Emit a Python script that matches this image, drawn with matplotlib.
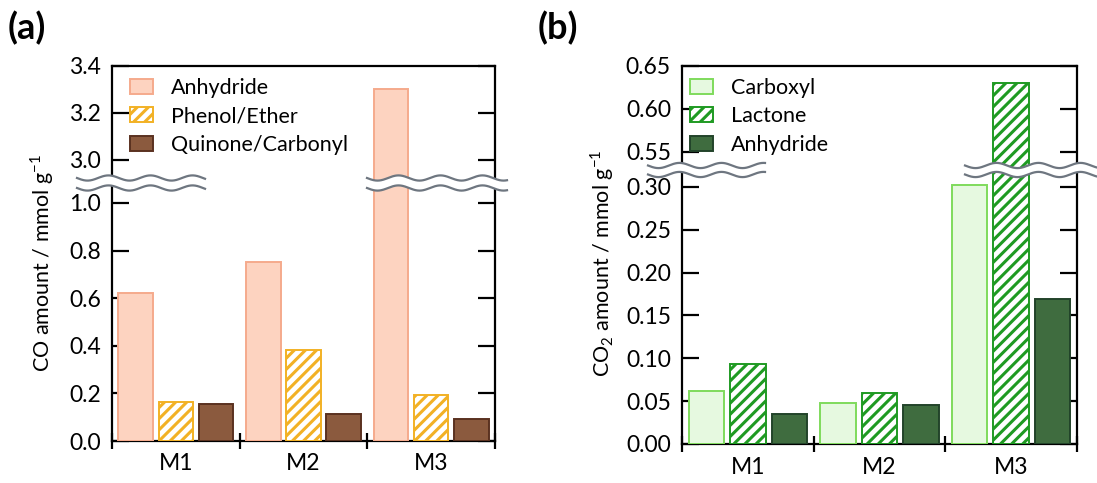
import numpy as np
import matplotlib
matplotlib.use("Agg")
import matplotlib.pyplot as plt
from matplotlib.lines import Line2D
from matplotlib.patches import Polygon, Patch

plt.rcParams['font.family'] = ['Lato', 'DejaVu Sans']
plt.rcParams['hatch.linewidth'] = 2.2
plt.rcParams['mathtext.fontset'] = 'custom'
plt.rcParams['mathtext.rm'] = 'Lato'

samples = ['M1', 'M2', 'M3']

# CO desorption (a)
co_labels = ['Anhydride', 'Phenol/Ether', 'Quinone/Carbonyl']
co_anhydride = [0.62, 0.753, 3.30]
co_phenol = [0.165, 0.382, 0.193]
co_quinone = [0.154, 0.112, 0.091]

# CO2 desorption (b)
co2_labels = ['Carboxyl', 'Lactone', 'Anhydride']
co2_carboxyl = [0.062, 0.048, 0.302]
co2_lactone = [0.093, 0.060, 0.630]
co2_anhydride = [0.035, 0.045, 0.169]

co_styles = [dict(facecolor='#fdd3c0', edgecolor='#f5aa8c', hatch=None),
             dict(facecolor='white', edgecolor='#f2b125', hatch='///'),
             dict(facecolor='#8b5a3e', edgecolor='#5a3120', hatch=None)]
co2_styles = [dict(facecolor='#e6f9e0', edgecolor='#7fdb5c', hatch=None),
              dict(facecolor='white', edgecolor='#1f9a22', hatch='///'),
              dict(facecolor='#3f6c3f', edgecolor='#22432a', hatch=None)]

W, H = 1097, 483
fig = plt.figure(figsize=(W / 100, H / 100), dpi=100)


def px_axes(x0, x1, y0, y1):
    return fig.add_axes([x0 / W, 1 - y1 / H, (x1 - x0) / W, (y1 - y0) / H])


def style_axes(ax, yticks, fmt):
    for s in ax.spines.values():
        s.set_linewidth(1.6)
    ax.set_yticks(yticks)
    ax.set_yticklabels([fmt.format(t) for t in yticks])
    ax.tick_params(axis='y', which='major', direction='in', length=12, width=1.6,
                   left=True, right=True, labelsize=16.5, pad=8)
    ax.set_xlim(0.5, 3.5)


def draw_bars(ax, series, styles):
    x = np.arange(1, len(samples) + 1)
    offsets = [-0.315, 0, 0.315]
    for vals, off, st in zip(series, offsets, styles):
        ax.bar(x + off, vals, width=0.27, linewidth=1.4, zorder=3, **st)


def panel(x0, x1, y_top, y_break, y_bot, upper_lim, lower_lim, up_ticks, low_ticks,
          fmt, series, styles, labels, ylabel, tag, tag_x, ylabel_x, leg_anchor):
    up = px_axes(x0, x1, y_top, y_break)
    low = px_axes(x0, x1, y_break, y_bot)
    draw_bars(up, series, styles)
    draw_bars(low, series, styles)
    up.set_ylim(*upper_lim)
    low.set_ylim(*lower_lim)
    style_axes(up, up_ticks, fmt)
    style_axes(low, low_ticks, fmt)
    up.spines['bottom'].set_visible(False)
    low.spines['top'].set_visible(False)
    up.tick_params(axis='x', which='both', bottom=False, labelbottom=False)

    low.set_xticks([0.5, 1.5, 2.5, 3.5])
    low.set_xticklabels([])
    low.tick_params(axis='x', which='major', direction='inout', length=12, width=1.6)
    low.set_xticks([1, 2, 3], minor=True)
    low.set_xticklabels(samples, minor=True)
    low.tick_params(axis='x', which='minor', length=0, labelsize=16.5, pad=9)

    handles = [Patch(label=l, linewidth=1.4, **st) for l, st in zip(labels, styles)]
    up.legend(handles=handles, loc='upper left', bbox_to_anchor=leg_anchor,
              frameon=False, fontsize=15.5, handlelength=1.05, handleheight=0.7,
              handletextpad=0.85, labelspacing=0.4, borderaxespad=0, borderpad=0)

    fig.text(ylabel_x / W, 1 - 263 / H, ylabel, rotation=90, ha='center',
             va='center', fontsize=15.5)
    fig.text(tag_x / W, 1 - 28 / H, tag, fontsize=26, fontweight='bold',
             ha='left', va='center')
    return up, low


def wavy_break(xa, xb, yc, gap):
    # two wavy strokes with white between them, in pixel coordinates
    xs = np.linspace(xa, xb, 300)
    phase = 2 * np.pi * (xs - xa) / 42.0
    y1 = yc - gap / 2 + 2.6 * np.sin(phase)
    y2 = yc + gap / 2 + 2.6 * np.sin(phase)
    fx = xs / W
    poly = np.concatenate([np.column_stack([fx, 1 - y1 / H]),
                           np.column_stack([fx[::-1], 1 - y2[::-1] / H])])
    fig.add_artist(Polygon(poly, closed=True, facecolor='white',
                           edgecolor='none', zorder=10))
    for yy in (y1, y2):
        fig.add_artist(Line2D(fx, 1 - yy / H, color='#6e7680', lw=1.6, zorder=11))


panel(112, 495, 66, 183, 441, (2.902, 3.4), (0, 1.084),
      [3.0, 3.2, 3.4], [0.0, 0.2, 0.4, 0.6, 0.8, 1.0], '{:.1f}',
      [co_anhydride, co_phenol, co_quinone], co_styles, co_labels,
      'CO amount / mmol g$^{-1}$', '(a)', 8, 42, (0.047, 0.9))

panel(682, 1077, 66, 169, 444, (0.530, 0.65), (0, 0.321),
      [0.55, 0.60, 0.65], [0.0, 0.05, 0.10, 0.15, 0.20, 0.25, 0.30], '{:.2f}',
      [co2_carboxyl, co2_lactone, co2_anhydride], co2_styles, co2_labels,
      'CO$_2$ amount / mmol g$^{-1}$', '(b)', 538, 602, (0.02, 0.885))

wavy_break(77, 205, 183, 10)
wavy_break(367, 507, 183, 10)
wavy_break(648, 765, 170, 9)
wavy_break(965, 1100, 170, 9)

fig.savefig('out.png', dpi=100)
